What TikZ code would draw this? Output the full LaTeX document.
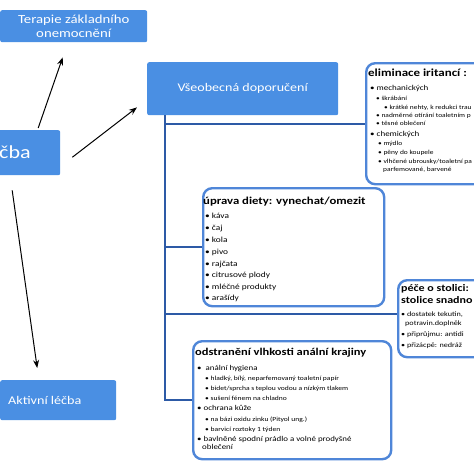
\documentclass[tikz,border=0pt]{standalone}
\usepackage{fontspec}
\setmainfont{Carlito}[FakeStretch=1.2]
\usetikzlibrary{arrows.meta}

\definecolor{boxblue}{HTML}{4A8FE3}
\definecolor{frameblue}{HTML}{4F86D8}
\definecolor{treeblue}{HTML}{2D5AA6}

\tikzset{
  mainbox/.style={fill=boxblue, rounded corners=2pt, text=white, inner sep=0pt, anchor=north west},
  listbox/.style={draw=frameblue, line width=2.4pt, rounded corners=9pt, fill=white, inner sep=0pt, anchor=north west},
  branch/.style={draw=treeblue, line width=2.2pt},
  arrow/.style={draw=black, line width=1pt, -{Stealth[length=8pt,width=6pt]}},
  head/.style={anchor=base west, inner sep=0pt, font=\bfseries\fontsize{11}{12}\selectfont},
  item/.style={anchor=base west, inner sep=0pt, font=\fontsize{7.8}{9}\selectfont},
  subitem/.style={anchor=base west, inner sep=0pt, font=\fontsize{6.3}{7}\selectfont},
  tiny/.style={anchor=base west, inner sep=0pt, font=\fontsize{6.2}{7}\selectfont}
}

\begin{document}
\begin{tikzpicture}[x=1pt, y=-1pt]

\useasboundingbox (0,0) rectangle (474,474);
\clip (0,0) rectangle (474,474);

% Modre bloky
\node[mainbox, minimum width=147, minimum height=32, align=center,
  font=\fontsize{12.3}{14.5}\selectfont] (terapie) at (0,10) {Terapie základního\\onemocnění};
\node[mainbox, minimum width=191, minimum height=53,
  font=\fontsize{11.7}{14}\selectfont] (vseob) at (147,62) {Všeobecná doporučení};
\node[mainbox, minimum width=120, minimum height=45] (lecba) at (-60,130) {};
\node[anchor=west, inner sep=0pt, text=white, font=\fontsize{18.4}{20}\selectfont] (lecbatext) at (-1,152) {čba};
\node[mainbox, minimum width=116, minimum height=40] (aktiv) at (0,380) {};
\node[anchor=west, inner sep=0pt, text=white, font=\fontsize{11.8}{14}\selectfont] (aktivtext) at (8,400) {Aktivní léčba};

% Sipky
\draw[arrow] ([shift={(38,-2)}]lecba.north) -- ([shift={(-11,15)}]terapie.south);
\draw[arrow] ([shift={(12,4.5)}]lecba.east) -- ([shift={(-10,-8)}]vseob.south west);
\draw[arrow] ([shift={(12,15)}]lecba.south) -- ([shift={(-21,-12)}]aktiv.north);

% Ramecky
\node[listbox, minimum width=140, minimum height=121] (elim) at (365,62) {};
\node[listbox, minimum width=181, minimum height=118] (uprava) at (202,187) {};
\node[listbox, minimum width=100, minimum height=77] (pece) at (397,279) {};
\node[listbox, minimum width=198, minimum height=118] (odstr) at (192,340) {};

% Strom
\coordinate (trunk) at ([xshift=18pt]vseob.south west);
\draw[branch] (trunk) |- (elim.west);
\draw[branch] (trunk) |- (uprava.west);
\draw[branch] (trunk) |- ([yshift=5pt]pece.west);
\draw[branch] (trunk) |- (odstr.west);

% eliminace iritancí
\node[head, font=\bfseries\fontsize{10.8}{12}\selectfont] (e0) at (368,76) {eliminace iritancí :};
\node[item, font=\fontsize{7.5}{8}\selectfont] (e1) at (370,90.5) {• mechanických};
\node[tiny] (e2) at (376,100) {• škrábání};
\node[tiny] (e3) at (384,109) {• krátké nehty, k redukci trau};
\node[tiny] (e4) at (376,117) {• nadměrné otírání toaletním p};
\node[tiny] (e5) at (376,125) {• těsné oblečení};
\node[item, font=\fontsize{7.5}{8}\selectfont] (e6) at (370,136.5) {• chemických};
\node[tiny] (e7) at (378,145) {• mýdlo};
\node[tiny] (e8) at (378,154) {• pěny do koupele};
\node[tiny] (e9) at (378,163) {• vlhčené ubrousky/toaletní pa};
\node[tiny] (e10) at (383,171) {parfemované, barvené};

% uprava diety
\node[head, font=\bfseries\fontsize{10.6}{12}\selectfont] (u0) at (203,204.5) {úprava diety: vynechat/omezit};
\node[item] (u1) at (205,218.5) {• káva};
\node[item] (u2) at (205,230.5) {• čaj};
\node[item] (u3) at (205,242.5) {• kola};
\node[item] (u4) at (205,254.5) {• pivo};
\node[item] (u5) at (205,266.5) {• rajčata};
\node[item] (u6) at (205,277.5) {• citrusové plody};
\node[item] (u7) at (205,289.5) {• mléčné produkty};
\node[item] (u8) at (205,300.5) {• arašídy};

% pece o stolici
\node[head, font=\bfseries\fontsize{10}{12}\selectfont] (p0) at (401,291) {péče o stolici:};
\node[head, font=\bfseries\fontsize{10}{12}\selectfont] (p1) at (401,303) {stolice snadno};
\node[item, font=\fontsize{6.8}{7}\selectfont] (p2) at (401,316) {• dostatek tekutin,};
\node[item, font=\fontsize{6.8}{7}\selectfont] (p3) at (405,325) {potravin.doplněk};
\node[item, font=\fontsize{6.8}{7}\selectfont] (p4) at (401,336) {• připrůjmu: antidi};
\node[item, font=\fontsize{6.8}{7}\selectfont] (p5) at (401,347) {• přizácpě: nedráž};

% odstraneni vlhkosti
\node[head, font=\bfseries\fontsize{10.4}{12}\selectfont] (o0) at (195,355.5) {odstranění vlhkosti anální krajiny};
\node[item, font=\fontsize{7.4}{9}\selectfont] (o1) at (197,370.5) {•\ \ anální hygiena};
\node[subitem] (o2) at (205,380.5) {• hladký, bílý, neparfemovaný toaletní papír};
\node[subitem] (o3) at (205,390.5) {• bidet/sprcha s teplou vodou a nízkým tlakem};
\node[subitem] (o4) at (205,400.5) {• sušení fénem na chladno};
\node[item, font=\fontsize{7.4}{9}\selectfont] (o5) at (197,410.5) {• ochrana kůže};
\node[subitem] (o6) at (205,421.5) {• na bázi oxidu zinku (Pityol ung.)};
\node[subitem] (o7) at (205,431.5) {• barvicí roztoky 1 týden};
\node[item, font=\fontsize{7.4}{9}\selectfont] (o8) at (197,441.5) {• bavlněné spodní prádlo a volné prodyšné};
\node[item, font=\fontsize{7.4}{9}\selectfont] (o9) at (202,449.5) {oblečení};

\end{tikzpicture}
\end{document}
